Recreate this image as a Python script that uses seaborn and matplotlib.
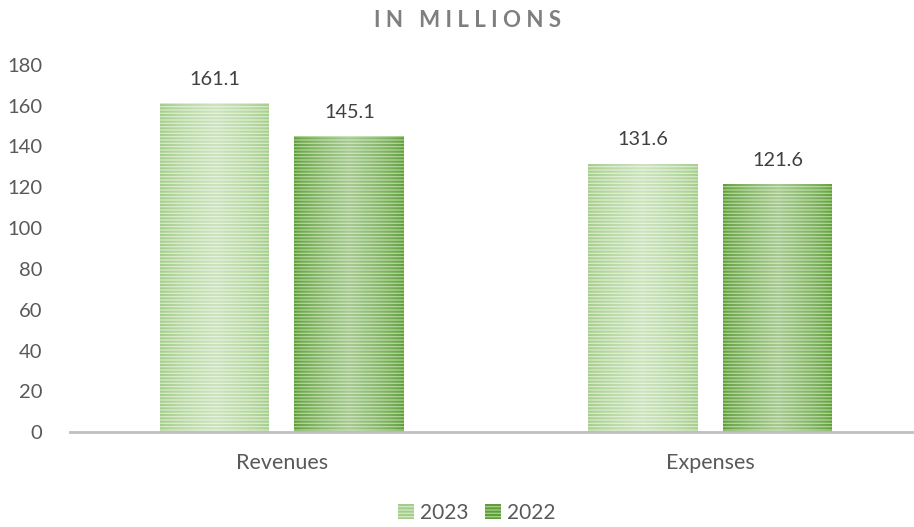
import numpy as np
import pandas as pd
import matplotlib
matplotlib.use("Agg")
import matplotlib.pyplot as plt
import seaborn as sns

# Chart data
categories = ["Revenues", "Expenses"]
years = ["2023", "2022"]
values_2023 = [161.1, 131.6]
values_2022 = [145.1, 121.6]

# Style settings
face_colors = {"2023": "#d6e9c8", "2022": "#a9d18e"}
stripe_colors = {"2023": "#a3cd88", "2022": "#5e9e38"}

sns.set_theme(style="white")
plt.rcParams['font.family'] = ['Lato', 'DejaVu Sans']
plt.rcParams['hatch.linewidth'] = 1.5

df = pd.DataFrame({
    "Category": categories * 2,
    "Year": [years[0]] * len(categories) + [years[1]] * len(categories),
    "Value": values_2023 + values_2022,
})

fig = plt.figure(figsize=(9.14, 5.27), dpi=100)
ax = fig.add_axes([0.0766, 0.180, 0.9214, 0.697])

sns.barplot(data=df, x="Category", y="Value", hue="Year", order=categories,
            hue_order=years, palette=face_colors, width=0.63, gap=0.185,
            ax=ax, legend=False)

# white sheen, brighter in the middle of each bar
t = np.linspace(0, 1, 64)
alpha = 0.45 * (1 - np.abs(2 * t - 1)) ** 0.7
sheen = np.ones((1, 64, 4))
sheen[0, :, 3] = alpha

for year, container in zip(years, ax.containers):
    for bar in container:
        bar.set_facecolor(face_colors[year])
        bar.set_edgecolor(stripe_colors[year])
        bar.set_hatch("-----")
        bar.set_linewidth(0)
        x0, w, h = bar.get_x(), bar.get_width(), bar.get_height()
        im = ax.imshow(sheen, extent=(x0, x0 + w, 0, h), aspect="auto",
                       interpolation="bilinear", zorder=bar.get_zorder() + 0.1)
        im.set_clip_path(bar)
    ax.bar_label(container, fmt="%.1f", padding=11, fontsize=14.3, color="#404040")

ax.set_ylim(0, 180)
ax.set_yticks(range(0, 181, 20))
ax.set_xlim(-0.495, 1.472)
ax.set_xlabel("")
ax.set_ylabel("")
ax.tick_params(axis="both", length=0, labelcolor="#595959")
ax.tick_params(axis="y", pad=20, labelsize=14.5)
ax.tick_params(axis="x", pad=15, labelsize=15.5)

for side in ["top", "right", "left"]:
    ax.spines[side].set_visible(False)
ax.spines["bottom"].set_color("#bfbfbf")
ax.spines["bottom"].set_linewidth(2)

fig.text(0.512, 0.962, "I N   M I L L I O N S", ha="center", va="center",
         fontsize=16, fontweight="bold", color="#7f7f7f")

handles = [plt.Rectangle((0, 0), 1, 1, facecolor=face_colors[y],
                         edgecolor=stripe_colors[y], hatch="-----", linewidth=0)
           for y in years]
fig.legend(handles, years, loc="center", bbox_to_anchor=(0.522, 0.027), ncol=2,
           frameon=False, fontsize=15, handlelength=0.75, handleheight=0.75,
           handletextpad=0.3, columnspacing=0.8, labelcolor="#595959")

fig.savefig("out.png", dpi=100)
